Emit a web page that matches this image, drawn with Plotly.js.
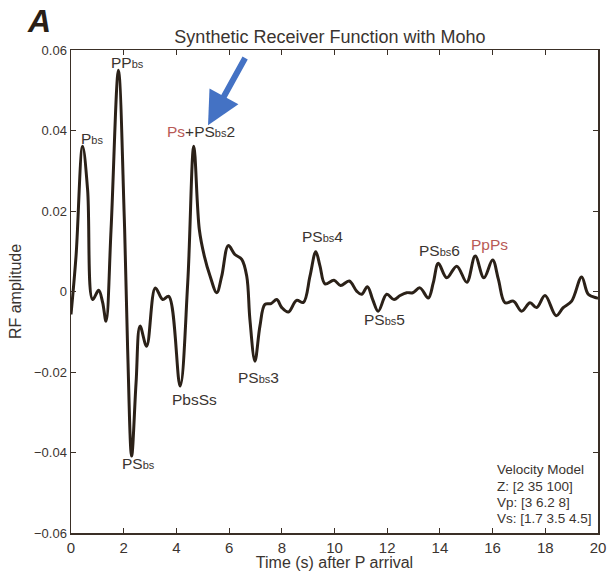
<!DOCTYPE html>
<html>
<head>
<meta charset="utf-8">
<script src="https://cdn.plot.ly/plotly-3.0.1.min.js"></script>
<style>html,body{margin:0;padding:0;background:#fff;}#chart{width:611px;height:571px;}</style>
</head>
<body>
<div id="chart"></div>
<script>
// Time (s) after P arrival
const timeSec = [0, 0.19, 0.44, 0.63, 0.82, 1.05, 1.20, 1.33, 1.52, 1.80, 2.02, 2.15, 2.30, 2.47, 2.62, 2.87, 3.20, 3.48, 3.71, 4.14, 4.43, 4.66, 4.87, 5.06, 5.28, 5.53, 5.72, 5.97, 6.22, 6.48, 6.67, 6.79, 6.98, 7.17, 7.36, 7.59, 7.81, 8.00, 8.25, 8.56, 8.82, 9.07, 9.29, 9.45, 9.64, 9.98, 10.23, 10.56, 10.84, 11.03, 11.25, 11.45, 11.66, 11.98, 12.26, 12.49, 12.74, 12.97, 13.24, 13.56, 13.75, 13.94, 14.26, 14.64, 15.02, 15.34, 15.67, 16.00, 16.22, 16.47, 16.79, 17.10, 17.42, 17.67, 17.99, 18.41, 18.68, 19.00, 19.38, 19.63, 19.95, 20.0];
// RF amplitude
const rfAmp = [-0.0057, 0.0087, 0.0361, 0.0253, -0.0020, 0.0003, -0.0027, -0.0074, 0.0154, 0.0550, 0.0187, -0.0144, -0.0409, -0.0226, -0.0086, -0.0136, 0.0009, -0.0020, -0.0012, -0.0235, 0.0022, 0.0361, 0.0154, 0.0088, 0.0038, -0.0003, 0.0038, 0.0114, 0.0092, 0.0080, 0.0038, -0.0070, -0.0173, -0.0086, -0.0032, -0.0030, -0.0020, -0.0040, -0.0051, -0.0022, -0.0027, 0.0038, 0.0099, 0.0063, 0.0019, 0.0028, 0.0015, 0.0026, 0.0001, -0.0007, 0.0012, -0.0020, -0.0049, -0.0007, -0.0020, -0.0010, -0.0003, -0.0003, 0.0009, -0.0016, 0.0022, 0.0070, 0.0034, 0.0063, 0.0023, 0.0088, 0.0034, 0.0078, 0.0030, -0.0028, -0.0024, -0.0049, -0.0028, -0.0040, -0.0010, -0.0060, -0.0040, -0.0024, 0.0036, -0.0007, -0.0016, -0.0017];

const xTicks = [0, 2, 4, 6, 8, 10, 12, 14, 16, 18, 20];
const yTicks = [-0.06, -0.04, -0.02, 0, 0.02, 0.04, 0.06];
const yTickText = ['\u22120.06', '\u22120.04', '\u22120.02', '0', '0.02', '0.04', '0.06'];

// Phase labels
const SB = '<span style="font-size:11px">bs</span>';
const phaseLabels = ['P' + SB, 'PP' + SB,
  '<span style="color:#b85a55">Ps</span>+PS' + SB + '2',
  'PS' + SB + '4', 'PS' + SB + '6',
  '<span style="color:#b85a55">PpPs</span>', 'PS' + SB + '5',
  'PS' + SB + '3', 'PbsSs', 'PS' + SB];
const phaseX = [0.80, 2.13, 4.93, 9.56, 13.97, 15.90, 11.88, 7.13, 4.70, 2.58];
const phaseY = [0.0380, 0.0569, 0.0398, 0.0137, 0.0102, 0.0117, -0.0070, -0.0214, -0.0268, -0.0427];

const modelLines = ['Velocity Model', 'Z: [2 35 100]', 'Vp: [3 6.2 8]', 'Vs: [1.7 3.5 4.5]'];
const modelLineY = [-0.04421, -0.04843, -0.05241, -0.05639];

const FONT = 'Liberation Sans, Arial, Helvetica, sans-serif';
const AX = '#3a2f26';
const TXT = '#3a3430';

const annotations = phaseLabels.map((t, i) => ({
  x: phaseX[i], y: phaseY[i], xref: 'x', yref: 'y', text: t, showarrow: false,
  xanchor: 'center', yanchor: 'middle', font: {family: FONT, size: 15.5, color: TXT}
}));
annotations.push({
  x: 5.2, y: 0.0413, ax: 6.64, ay: 0.0584, xref: 'x', yref: 'y', axref: 'x', ayref: 'y',
  text: '', showarrow: true, arrowhead: 2, arrowsize: 1.1, arrowwidth: 6, arrowcolor: '#4472c4'
});
modelLines.forEach((t, i) => annotations.push({
  x: 16.09, y: modelLineY[i], xref: 'x', yref: 'y', text: t, showarrow: false,
  xanchor: 'left', yanchor: 'middle', align: 'left', font: {family: FONT, size: 13.5, color: TXT}
}));
annotations.push({
  x: -0.088, y: 1.06, xref: 'paper', yref: 'paper', text: '<b><i>A</i></b>', showarrow: false,
  xanchor: 'left', yanchor: 'middle', font: {family: FONT, size: 32, color: '#2a1f16'}
});

const trace = {
  x: timeSec, y: rfAmp, type: 'scatter', mode: 'lines',
  line: {color: '#2b2118', width: 3, shape: 'spline', smoothing: 1.0},
  hoverinfo: 'skip'
};

const layout = {
  width: 611, height: 571,
  margin: {l: 71, r: 13, t: 50, b: 38},
  paper_bgcolor: '#ffffff', plot_bgcolor: '#ffffff',
  showlegend: false,
  font: {family: FONT, color: TXT},
  title: {text: 'Synthetic Receiver Function with Moho', x: 0.54, xref: 'container', y: 0.935, yref: 'container',
    xanchor: 'center', yanchor: 'middle', font: {family: FONT, size: 18, color: TXT}},
  xaxis: {
    range: [0, 20], tickvals: xTicks, ticktext: xTicks.map(String),
    ticks: 'inside', ticklen: 5, tickcolor: AX, tickwidth: 1,
    showline: true, linecolor: AX, linewidth: 1.5, mirror: 'ticks',
    showgrid: false, zeroline: false,
    tickfont: {family: FONT, size: 15, color: TXT},
    title: {text: 'Time (s) after P arrival', font: {family: FONT, size: 16, color: TXT}, standoff: 3}
  },
  yaxis: {
    range: [-0.06, 0.06], tickvals: yTicks, ticktext: yTickText,
    ticks: 'inside', ticklen: 5, tickcolor: AX, tickwidth: 1,
    showline: true, linecolor: AX, linewidth: 1.5, mirror: 'ticks',
    showgrid: false, zeroline: false,
    tickfont: {family: FONT, size: 13, color: TXT},
    title: {text: 'RF amplitude', font: {family: FONT, size: 16, color: TXT}, standoff: 8}
  },
  annotations: annotations
};

Plotly.newPlot('chart', [trace], layout, {staticPlot: true, displayModeBar: false});
</script>
</body>
</html>
